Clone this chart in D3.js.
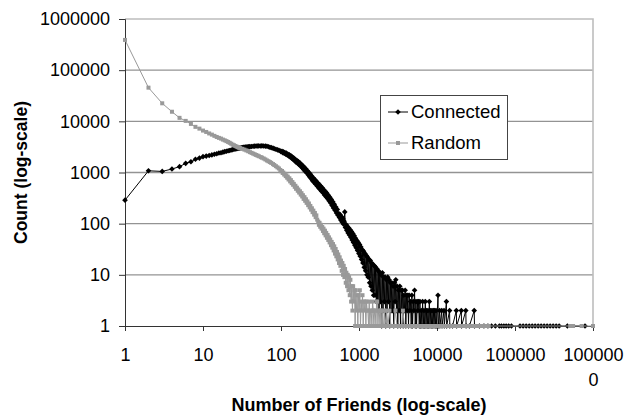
<!DOCTYPE html>
<html>
<head>
<meta charset="utf-8">
<script src="https://cdn.jsdelivr.net/npm/d3@7"></script>
<style>
  body { margin: 0; background: #fff; }
  svg { display: block; }
  text { font-family: Arial, "Liberation Sans", sans-serif; fill: #000; }
</style>
</head>
<body>
<svg id="chart" width="628" height="417"></svg>
<script>
// Axis decades and their labels
const decades = [1, 10, 100, 1000, 10000, 100000, 1000000];
const yTickLabels = ["1", "10", "100", "1000", "10000", "100000", "1000000"];
const xTickLines = [["1"], ["10"], ["100"], ["1000"], ["10000"], ["100000"], ["100000", "0"]];
const seriesNames = ["Connected", "Random"];
const xTitle = "Number of Friends (log-scale)";
const yTitle = "Count (log-scale)";

// Connected: [number of friends, count]
const connectedHead = [[1,288],[2,1080],[3,1050],[4,1170],[5,1300],[6,1510],[7,1620],[8,1810],[9,1910],[10,2040],
  [11,2090],[12,2150],[13,2210],[14,2280],[15,2330],[16,2400],[17,2440],[18,2500],[19,2560],[20,2600],
  [21,2660],[22,2700],[23,2760],[24,2800],[25,2840],[26,2880],[27,2920],[28,2950],[29,2990],[30,3020],
  [31,3050],[32,3070],[33,3100],[34,3110],[35,3130],[36,3150],[37,3160],[38,3180],[39,3190],[40,3200]];
const connectedBody = [[42,3230],[44,3250],[46,3270],[48,3300],[50,3290],[52,3310],[55,3300],[57,3320],[60,3290],
  [63,3270],[66,3250],[69,3190],[72,3120],[75,3060],[79,2990],[82,2920],[86,2840],[90,2770],[94,2720],[98,2640],
  [100,2560],[103,2600],[105,2450],[107,2530],[110,2370],[112,2460],[115,2290],[117,2390],[120,2210],[122,2300],
  [125,2110],[128,2220],[131,2010],[134,2120],[137,1900],[140,2000],[143,1800],[146,1910],[150,1700],[153,1800],
  [156,1590],[160,1720],[164,1500],[167,1630],[171,1420],[175,1540],[179,1330],[183,1430],[187,1240],[191,1350],
  [195,1150],[200,1250],[204,1060],[209,1170],[213,990],[218,1080],[223,900],[228,1000],[233,830],[238,920],
  [243,760],[249,845],[254,690],[260,780],[266,640],[272,725],[278,590],[284,675],[291,545],[297,625],
  [303,505],[310,580],[317,465],[324,540],[331,430],[339,500],[346,400],[354,460],[362,365],[370,425],
  [378,335],[387,395],[395,310],[404,360],[413,280],[422,330],[431,255],[441,298],[451,226],[461,268],
  [471,203],[482,240],[493,182],[504,212],[515,162],[527,190],[538,146]];
const connectedTail = [[550,158],[561,132],[572,150],[584,118],[595,138],[607,108],[619,126],[632,98],[644,112],
  [657,170],[670,84],[684,96],[697,74],[711,88],[726,66],[740,82],[755,60],[770,76],[786,54],[801,70],[817,48],
  [834,64],[850,43],[868,58],[885,38],[903,52],[921,34],[939,47],[958,30],[977,43],[997,26],[1017,39],[1037,23],
  [1058,35],[1079,20],[1100,31],[1122,17],[1145,29],[1168,14],[1191,26],[1215,12],[1239,24],[1264,10],[1289,22],
  [1315,9],[1342,20],[1368,7],[1396,19],[1424,6],[1452,17],[1481,5],[1511,16],[1541,4],[1572,15],[1603,4],
  [1635,14],[1668,3],[1701,13],[1735,3],[1770,12],[1806,2],[1842,11],[1879,3],[1916,10],[1954,1],[1993,11],
  [2033,2],[2074,9],[2115,3],[2158,9],[2201,1],[2245,8],[2290,2],[2335,9],[2382,3],[2430,8],[2478,1],[2528,7],
  [2578,2],[2630,7],[2683,2],[2736,6],[2791,1],[2847,7],[2904,3],[2962,8],[3021,2],[3081,6],[3143,1],[3206,5],
  [3270,2],[3335,6],[3402,1],[3470,5],[3540,2],[3610,5],[3683,1],[3756,4],[3831,2],[3908,5],[3986,1],[4066,4],
  [4147,2],[4230,4],[4315,1],[4401,4],[4489,2],[4579,3],[4671,1],[4764,4],[4859,1],[4957,3],[5056,2],[5157,5],
  [5260,1],[5365,3],[5473,1],[5582,3],[5694,2],[5808,3],[5924,1],[6042,3],[6163,1],[6286,2],[6412,1],[6540,3],
  [6671,1],[6805,2],[6941,1],[7080,3],[7221,1],[7366,2],[7513,1],[7663,2],[7816,1],[7973,3],[8132,1],[8295,2],
  [8461,1],[8630,2],[8803,1],[8979,2],[9158,1],[9341,2],[9528,1],[9719,2],[9913,1],
  [10300,4],[10380,1],[10800,2],[10900,1],[11500,2],[11600,1],[12300,2],[12400,1],[13200,3],[13300,1],
  [14500,2],[14600,1],[15800,1],[17700,2],[17850,1],[20500,2],[20650,1],[23400,2],[23600,1],[26000,1],[30000,2],[30250,1],
  [35000,1],[40000,1],[45000,1]];
const connectedFar = [[50000,1],[56000,1],[63000,1],[67000,1],[72000,1],[77000,1],[83000,1],[90000,1],
  [116000,1],[127000,1],[139000,1],[152000,1],[166000,1],[181000,1],[198000,1],[216000,1],[236000,1],[258000,1],
  [282000,1],[308000,1],[337000,1],[368000,1],[470000,1],[790000,1]];

// Random: [number of friends, count]
const randomHead = [[1,390000],[2,45500],[3,22500],[4,15400],[5,11700],[6,10200],[7,8900],[8,7800],[9,7200],[10,6600],
  [11,6200],[12,5800],[13,5500],[14,5200],[15,4950],[16,4750],[17,4600],[18,4400],[19,4250],[20,4100],
  [21,3950],[22,3800],[23,3650],[24,3500],[25,3400],[26,3300],[27,3200],[28,3120],[29,3050],[30,3000]];
const randomBody = [[32,2900],[34,2800],[36,2700],[38,2600],[40,2500],[42,2420],[44,2340],[46,2270],[48,2200],[50,2140],
  [52,2080],[55,2000],[57,1950],[60,1880],[63,1800],[66,1720],[69,1660],[72,1600],[75,1540],[79,1460],[82,1400],
  [86,1330],[90,1260],[94,1200],[98,1120],[100,1060],[103,1070],[105,980],[107,1000],[110,910],[112,940],
  [115,850],[117,880],[120,790],[122,830],[125,730],[128,770],[131,670],[134,710],[137,620],[140,650],
  [143,575],[146,600],[150,525],[153,550],[156,480],[160,505],[164,440],[167,465],[171,405],[175,430],
  [179,370],[183,395],[187,340],[191,360],[195,305],[200,330],[204,280],[209,300],[213,255],[218,272],
  [223,230],[228,248],[233,208],[238,222],[243,188],[249,200],[254,168],[260,180],[266,150],[272,162],
  [278,134],[284,145],[291,120]];
const randomTail = [[300,110],[306,95],[312,104],[318,87],[325,95],[331,80],[338,86],[345,72],[351,80],[358,65],
  [366,73],[373,59],[380,66],[388,53],[396,60],[404,48],[412,54],[420,43],[428,49],[437,38],[446,44],[455,34],
  [464,40],[473,30],[482,36],[492,26],[502,32],[512,23],[522,28],[533,20],[543,25],[554,17],[565,22],[577,15],
  [588,19],[600,12],[612,17],[624,10],[637,15],[650,9],[663,13],[676,7],[689,11],[703,6],[717,10],[732,5],
  [746,9],[761,4],[776,8],[792,3],[808,6],[824,2],[841,6],[857,3],[875,5],[892,1],[910,5],[928,2],[947,4],
  [966,1],[985,4],[1005,2],[1025,5],[1045,1],[1066,3],[1088,2],[1109,4],[1132,1],[1154,3],[1177,2],[1201,3],
  [1225,1],[1249,3],[1274,2],[1300,2],[1326,1],[1352,3],[1379,1],[1407,2],[1435,2],[1464,1],[1493,3],[1523,2],
  [1553,1],[1585,2],[1616,2],[1649,1],[1682,3],[1715,3],[1749,1],[1784,2],[1820,2],[1857,1],[1894,2],[1932,1],
  [1970,2],[2010,1],[2062,1],[2108,2],[2155,1],[2252,2],[2353,1],[2459,2],[2570,1],[2686,1],[2807,1],[2933,2],
  [3065,1],[3203,1],[3347,1],[3498,1],[3655,2],[3820,1],[3992,1],[4172,1],[4360,1],[4556,1],[4761,1],[4975,1],
  [5199,1],[5433,1],[5678,1],[5933,1],[6200,1],[6479,1],[6771,1],[7075,1],[7394,1],[7726,1],[8074,1],[8437,1],
  [8817,1],[9214,1],[9629,1],[10100,1],[10600,1],[11100,1],[11700,1],[12300,1],[12900,1],[13600,1],[14300,1],
  [15100,1],[15900,1],[16700,1],[17600,1],[18500,1],[19500,1],[20500,1],[21600,1],[22800,1],[24000,1],[25300,1],
  [26700,1],[28100,1],[29600,1],[31200,1],[32900,1],[34700,1],[36600,1],[38600,1],[40700,1],[43000,1],[46000,1]];
const randomFar = [[510000,1],[555000,1],[715000,1],[1000000,1]];

const connected = [...connectedHead, ...connectedBody, ...connectedTail, ...connectedFar];
const random = [...randomHead, ...randomBody, ...randomTail, ...randomFar];

const svg = d3.select("#chart");
const plot = { left: 125, right: 593, top: 19, bottom: 326 };

const x = d3.scaleLog().domain([1, 1e6]).range([plot.left, plot.right]);
const y = d3.scaleLog().domain([1, 1e6]).range([plot.bottom, plot.top]);

// Horizontal gridlines
svg.append("g").selectAll("line")
  .data(decades.slice(1, -1))
  .join("line")
  .attr("x1", plot.left).attr("x2", plot.right)
  .attr("y1", d => y(d)).attr("y2", d => y(d))
  .attr("stroke", "#939393").attr("stroke-width", 1.4);

// Plot frame on the top and right
svg.append("path")
  .attr("d", `M${plot.left},${y(1e6)}H${plot.right}V${plot.bottom}`)
  .attr("fill", "none").attr("stroke", "#bdbdbd").attr("stroke-width", 1.6);

// Y axis
const yAxis = svg.append("g")
  .attr("transform", `translate(${plot.left},0)`)
  .call(d3.axisLeft(y).tickValues(decades)
    .tickFormat((d, i) => yTickLabels[i]).tickSize(6).tickPadding(9));
yAxis.select(".domain").attr("stroke", "#333");
yAxis.selectAll(".tick line").attr("stroke", "#333");
yAxis.selectAll("text").style("font-size", "18px").attr("fill", "#000");

// X axis
const xAxis = svg.append("g")
  .attr("transform", `translate(0,${plot.bottom})`)
  .call(d3.axisBottom(x).tickValues(decades).tickFormat("").tickSize(5));
xAxis.select(".domain").attr("stroke", "#333");
xAxis.selectAll(".tick line").attr("stroke", "#333");
xAxis.selectAll(".tick").each(function (d, i) {
  const t = d3.select(this).append("text")
    .attr("text-anchor", "middle")
    .attr("y", 22)
    .style("font-size", "18px");
  xTickLines[i].forEach((s, k) => {
    t.append("tspan").attr("x", 0).attr("dy", k === 0 ? "0.71em" : "25px").text(s);
  });
});

// Axis titles
svg.append("text")
  .attr("x", (plot.left + plot.right) / 2).attr("y", 411)
  .attr("text-anchor", "middle")
  .style("font-size", "18px").style("font-weight", "bold")
  .text(xTitle);
svg.append("text")
  .attr("transform", `translate(27,${(plot.top + plot.bottom) / 2}) rotate(-90)`)
  .attr("text-anchor", "middle")
  .style("font-size", "17.5px").style("font-weight", "bold")
  .text(yTitle);

// Series: line first, markers on top; Random is drawn over Connected
const line = d3.line().x(d => x(d[0])).y(d => y(d[1]));
const diamond = r => `M0,${-r}L${r},0L0,${r}L${-r},0Z`;

function drawSeries(data, color, marker) {
  const g = svg.append("g");
  g.append("path").datum(data)
    .attr("d", line).attr("fill", "none")
    .attr("stroke", color).attr("stroke-width", 1);
  if (marker === "diamond") {
    g.selectAll("path.m").data(data).join("path").attr("class", "m")
      .attr("d", diamond(2.8))
      .attr("transform", d => `translate(${x(d[0])},${y(d[1])})`)
      .attr("fill", color);
  } else {
    g.selectAll("rect").data(data).join("rect")
      .attr("x", d => x(d[0]) - 2).attr("y", d => y(d[1]) - 2)
      .attr("width", 4).attr("height", 4)
      .attr("fill", color);
  }
}
drawSeries(connected, "#000", "diamond");
drawSeries(random, "#999", "square");

// Legend
const legend = svg.append("g");
legend.append("rect")
  .attr("x", 380.5).attr("y", 95.5).attr("width", 127).attr("height", 64)
  .attr("fill", "#fff").attr("stroke", "#444").attr("stroke-width", 1);
const legendItems = [
  { name: seriesNames[0], color: "#000", marker: "diamond", cy: 112 },
  { name: seriesNames[1], color: "#999", marker: "square", cy: 143 }
];
legendItems.forEach(it => {
  legend.append("line").attr("x1", 388).attr("x2", 408)
    .attr("y1", it.cy).attr("y2", it.cy).attr("stroke", it.color);
  if (it.marker === "diamond") {
    legend.append("path").attr("d", diamond(2.8))
      .attr("transform", `translate(398,${it.cy})`).attr("fill", it.color);
  } else {
    legend.append("rect").attr("x", 396).attr("y", it.cy - 2)
      .attr("width", 4).attr("height", 4).attr("fill", it.color);
  }
  legend.append("text").attr("x", 411).attr("y", it.cy)
    .attr("dy", "0.35em").style("font-size", "18.5px").text(it.name);
});
</script>
</body>
</html>
